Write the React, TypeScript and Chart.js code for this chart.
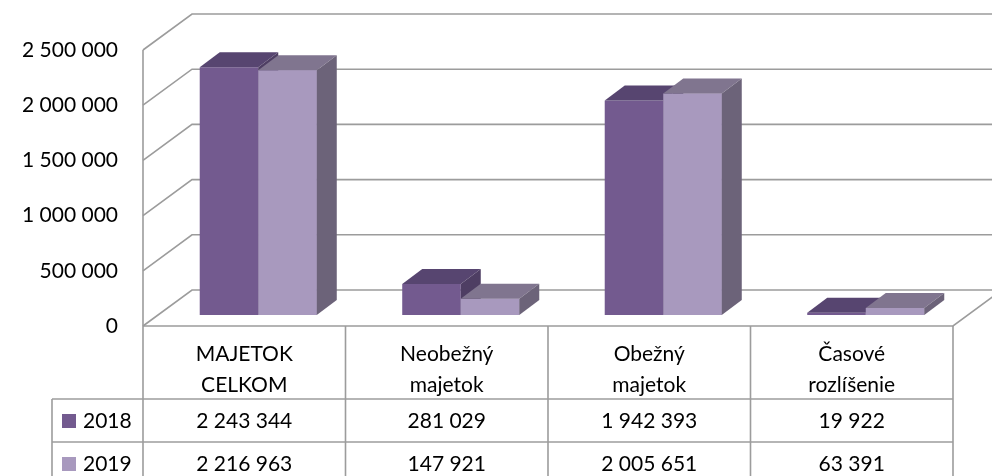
import { useEffect, useRef } from "react";
import { Chart, registerables } from "chart.js";

Chart.register(...registerables);

// ---- data ----
const categories: string[][] = [
  ["MAJETOK", "CELKOM"],
  ["Neobežný", "majetok"],
  ["Obežný", "majetok"],
  ["Časové", "rozlíšenie"],
];
const seriesNames = ["2018", "2019"];
const values2018 = [2243344, 281029, 1942393, 19922];
const values2019 = [2216963, 147921, 2005651, 63391];
const yTicks = [0, 500000, 1000000, 1500000, 2000000, 2500000];

// ---- styles ----
const FRONT = ["#735A8F", "#A899BE"];
const TOP = ["#574570", "#80758F"];
const SIDE = ["#4E3E63", "#6C6379"];
const LINE = "#9c9c9c";
const FONT = "Lato";
const FONT_SIZE = 21;
const WALL_DX = 49;
const WALL_DY = -36;
const BAR_DX = 14;
const BAR_DY = -11;
const DEPTH_DX = 20;
const DEPTH_DY = -15;
const HEADER_H = 73;
const ROW_H = 43;
const KEY_LEFT = 52;

const fmt = (v: number) =>
  String(Math.round(v)).replace(/\B(?=(\d{3})+(?!\d))/g, " ");

function drawFaces(ctx: CanvasRenderingContext2D, meta: any, di: number) {
  meta.data.forEach((el: any) => {
    const p = el.getProps(["x", "y", "base", "width"], true);
    const l = p.x - p.width / 2;
    const r = p.x + p.width / 2;
    const t = p.y;
    const b = p.base;
    ctx.fillStyle = TOP[di];
    ctx.beginPath();
    ctx.moveTo(l, t);
    ctx.lineTo(r, t);
    ctx.lineTo(r + DEPTH_DX, t + DEPTH_DY);
    ctx.lineTo(l + DEPTH_DX, t + DEPTH_DY);
    ctx.closePath();
    ctx.fill();
    ctx.fillStyle = SIDE[di];
    ctx.beginPath();
    ctx.moveTo(r, t);
    ctx.lineTo(r + DEPTH_DX, t + DEPTH_DY);
    ctx.lineTo(r + DEPTH_DX, b + DEPTH_DY);
    ctx.lineTo(r, b);
    ctx.closePath();
    ctx.fill();
  });
}

const threeD = {
  id: "threeD",
  beforeDraw(chart: any) {
    const { ctx, chartArea } = chart;
    const y = chart.scales.y;
    const L = chartArea.left;
    const R = chartArea.right;
    ctx.save();
    ctx.strokeStyle = LINE;
    ctx.lineWidth = 1.6;
    ctx.beginPath();
    ctx.moveTo(L, y.getPixelForValue(yTicks[yTicks.length - 1]));
    ctx.lineTo(L, chartArea.bottom);
    ctx.stroke();
    yTicks.forEach((v) => {
      const py = y.getPixelForValue(v);
      ctx.beginPath();
      ctx.moveTo(L, py);
      ctx.lineTo(L + WALL_DX, py + WALL_DY);
      ctx.lineTo(R + WALL_DX + 60, py + WALL_DY);
      ctx.stroke();
    });
    const y0 = y.getPixelForValue(0);
    ctx.beginPath();
    ctx.moveTo(L, y0);
    ctx.lineTo(R, y0);
    ctx.lineTo(R + WALL_DX, y0 + WALL_DY);
    ctx.stroke();
    ctx.restore();
  },
  beforeDatasetsDraw(chart: any) {
    chart.ctx.save();
    chart.ctx.translate(BAR_DX, BAR_DY);
  },
  afterDatasetDraw(chart: any, args: any) {
    // Chart.js draws the last dataset first; once the first dataset is drawn,
    // add its faces and then redraw the right-hand series on top of it.
    if (args.meta.index !== 0) return;
    const { ctx } = chart;
    ctx.save();
    drawFaces(ctx, args.meta, 0);
    const m1 = chart.getDatasetMeta(1);
    m1.data.forEach((el: any) => el.draw(ctx));
    drawFaces(ctx, m1, 1);
    ctx.restore();
  },
  afterDatasetsDraw(chart: any) {
    chart.ctx.restore();
  },
  afterDraw(chart: any) {
    const { ctx, chartArea } = chart;
    const x = chart.scales.x;
    const L = chartArea.left;
    const R = chartArea.right;
    const top = chartArea.bottom;
    const bottom = chart.height;
    const cw = (R - L) / categories.length;
    const rowTop = top + HEADER_H;
    ctx.save();
    ctx.strokeStyle = LINE;
    ctx.lineWidth = 1.6;
    for (let i = 0; i <= categories.length; i++) {
      const bx =
        i < categories.length
          ? x.getPixelForValue(i) - cw / 2
          : x.getPixelForValue(categories.length - 1) + cw / 2;
      ctx.beginPath();
      ctx.moveTo(bx, top);
      ctx.lineTo(bx, bottom);
      ctx.stroke();
    }
    ctx.beginPath();
    ctx.moveTo(KEY_LEFT, rowTop);
    ctx.lineTo(KEY_LEFT, bottom);
    ctx.stroke();
    for (let r = 0; r < seriesNames.length; r++) {
      const ry = rowTop + r * ROW_H;
      ctx.beginPath();
      ctx.moveTo(KEY_LEFT, ry);
      ctx.lineTo(R, ry);
      ctx.stroke();
    }
    ctx.fillStyle = "#000";
    ctx.font = `${FONT_SIZE}px ${FONT}`;
    ctx.textAlign = "center";
    ctx.textBaseline = "middle";
    categories.forEach((lines, i) => {
      const cx = x.getPixelForValue(i);
      lines.forEach((s, k) => {
        ctx.fillText(s, cx, top + 28 + k * 31);
      });
    });
    const rows = [values2018, values2019];
    rows.forEach((vals, r) => {
      const cy = rowTop + r * ROW_H + 22;
      ctx.fillStyle = "#000";
      ctx.textAlign = "center";
      vals.forEach((v, i) => {
        ctx.fillText(fmt(v), x.getPixelForValue(i), cy);
      });
      ctx.fillStyle = FRONT[r];
      ctx.fillRect(KEY_LEFT + 10, cy - 7, 14, 14);
      ctx.fillStyle = "#000";
      ctx.textAlign = "left";
      ctx.fillText(seriesNames[r], KEY_LEFT + 31, cy);
    });
    ctx.restore();
  },
};

export default function App() {
  const ref = useRef<HTMLCanvasElement>(null);
  useEffect(() => {
    if (!ref.current) return;
    const chart = new Chart(ref.current, {
      type: "bar",
      data: {
        labels: categories.map((c) => c.join(" ")),
        datasets: [
          {
            label: seriesNames[0],
            data: values2018,
            backgroundColor: FRONT[0],
            categoryPercentage: 0.578,
            barPercentage: 1,
            clip: false as any,
          },
          {
            label: seriesNames[1],
            data: values2019,
            backgroundColor: FRONT[1],
            categoryPercentage: 0.578,
            barPercentage: 1,
            clip: false as any,
          },
        ],
      },
      options: {
        animation: false,
        responsive: false,
        maintainAspectRatio: false,
        layout: { padding: { top: 50, right: 39, bottom: 0, left: 0 } },
        plugins: { legend: { display: false }, tooltip: { enabled: false } },
        scales: {
          x: {
            grid: { display: false, drawTicks: false },
            border: { display: false },
            ticks: { display: false },
            afterFit(s: any) {
              s.height = 150;
            },
          },
          y: {
            min: 0,
            max: 2500000,
            afterBuildTicks(s: any) {
              s.ticks = yTicks.map((v) => ({ value: v }));
            },
            grid: { display: false, drawTicks: false },
            border: { display: false },
            ticks: {
              padding: 25,
              color: "#000",
              font: { family: FONT, size: FONT_SIZE },
              callback: (v: any) => fmt(Number(v)),
            },
            afterFit(s: any) {
              s.width = 143;
            },
          },
        },
      },
      plugins: [threeD],
    });
    return () => chart.destroy();
  }, []);
  return (
    <div style={{ position: "fixed", left: 0, top: 0, width: 992, height: 476, background: "#fff" }}>
      <canvas ref={ref} width={992} height={476} style={{ display: "block" }} />
    </div>
  );
}
